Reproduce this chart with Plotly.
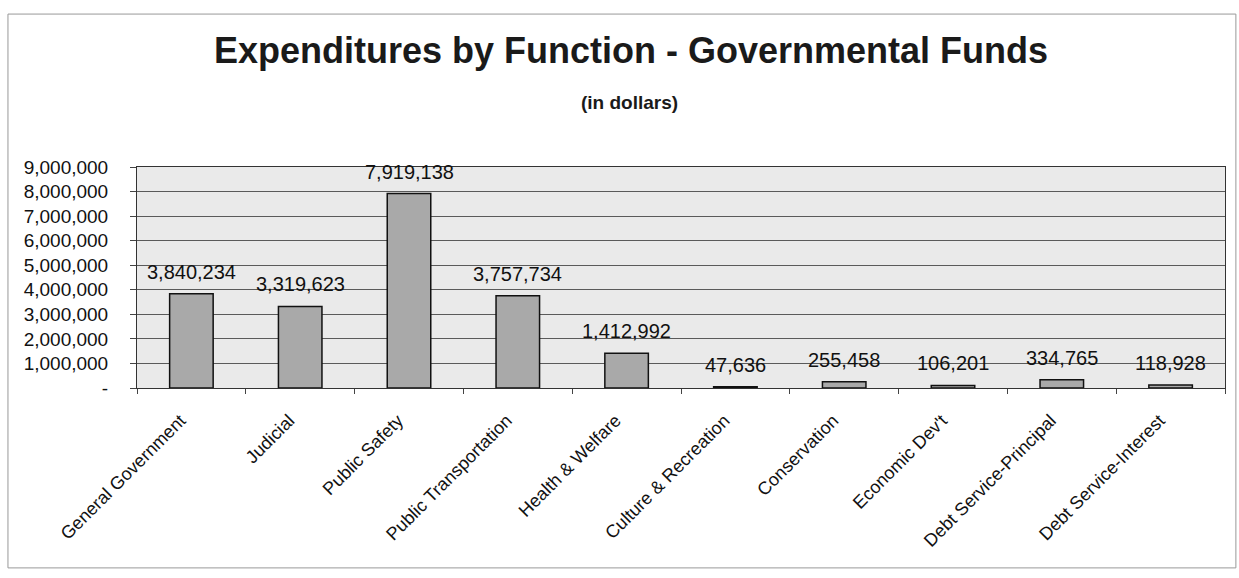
import plotly.graph_objects as go

categories = ["General Government", "Judicial", "Public Safety", "Public Transportation",
              "Health & Welfare", "Culture & Recreation", "Conservation", "Economic Dev't",
              "Debt Service-Principal", "Debt Service-Interest"]
values = [3840234, 3319623, 7919138, 3757734, 1412992, 47636, 255458, 106201, 334765, 118928]
ytick_vals = [0, 1000000, 2000000, 3000000, 4000000, 5000000, 6000000, 7000000, 8000000, 9000000]
ytick_text = ["-", "1,000,000", "2,000,000", "3,000,000", "4,000,000", "5,000,000",
              "6,000,000", "7,000,000", "8,000,000", "9,000,000"]
labels = [f"{v:,}" for v in values]

FONT = "Arial, Liberation Sans, sans-serif"

fig = go.Figure(go.Bar(
    x=categories, y=values,
    marker=dict(color="#a9a9a9", line=dict(color="#111", width=1.5)),
))

for c, v, t in zip(categories, values, labels):
    fig.add_annotation(x=c, y=v, text=t, showarrow=False, yanchor="middle", yshift=22,
                       font=dict(family=FONT, size=20, color="#111"))

fig.update_layout(
    width=1239, height=578,
    margin=dict(l=137, r=14, t=167, b=190),
    paper_bgcolor="white", plot_bgcolor="#eaeaea",
    bargap=0.6, showlegend=False,
    font=dict(family=FONT, color="#111"),
)
fig.add_annotation(xref="paper", yref="paper", x=0.454, y=1.525, showarrow=False,
                   text="<b>Expenditures by Function - Governmental Funds</b>",
                   font=dict(family=FONT, size=36, color="#1a1a1a"),
                   xanchor="center", yanchor="middle")
fig.add_annotation(xref="paper", yref="paper", x=0.453, y=1.29, showarrow=False,
                   text="<b>(in dollars)</b>",
                   font=dict(family=FONT, size=19, color="#1a1a1a"),
                   xanchor="center", yanchor="middle")

fig.update_xaxes(tickangle=-45, ticks="outside", tickson="boundaries", ticklen=5,
                 tickcolor="#444", showline=True, linecolor="#333", mirror=True,
                 ticklabelshift=-11, ticklabelstandoff=14,
                 tickfont=dict(size=18, color="#111"), showgrid=False)
fig.update_yaxes(range=[0, 9000000], tickvals=ytick_vals, ticktext=ytick_text,
                 ticks="outside", ticklen=6, tickcolor="#444", ticklabelstandoff=18,
                 showline=True, linecolor="#333", mirror=True,
                 gridcolor="#5a5a5a", gridwidth=1, zeroline=False,
                 tickfont=dict(size=19, color="#111"))

fig.add_shape(type="rect", xref="paper", yref="paper", x0=-0.1186, x1=1.010, y0=-0.814, y1=1.692,
              line=dict(color="#999", width=1))

fig.write_html("out.html")
